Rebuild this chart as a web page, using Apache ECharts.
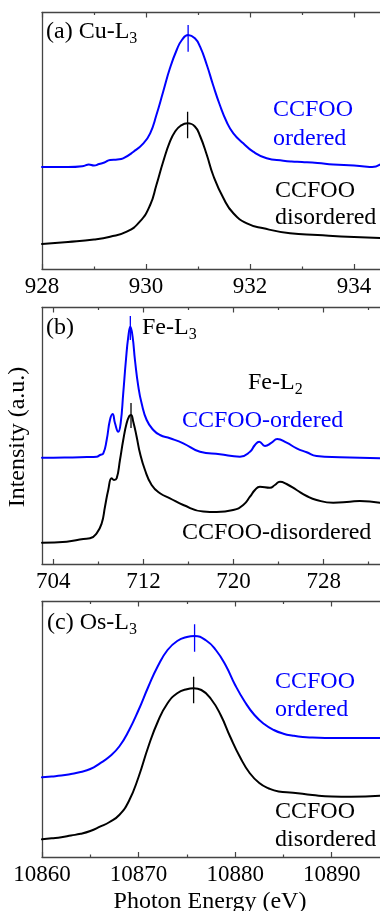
<!DOCTYPE html>
<html><head><meta charset="utf-8">
<script src="https://cdn.jsdelivr.net/npm/echarts@6/dist/echarts.min.js"></script>
<style>html,body{margin:0;padding:0;background:#fff}#c{width:380px;height:911px}</style>
</head><body><div id="c"></div>
<script>
// ---------- Panel (a) Cu-L3 ----------
const cuOrdered = [[928.0,1.02],[928.5,1.02],[928.8,1.03],[928.9,1.045],[929.0,1.035],[929.1,1.05],[929.2,1.065],[929.31,1.09],[929.45,1.095],[929.56,1.107],[929.76,1.173],[929.95,1.257],[930.08,1.357],[930.2,1.54],[930.33,1.773],[930.46,2.007],[930.59,2.19],[930.69,2.29],[930.81,2.34],[930.94,2.307],[931.04,2.223],[931.17,2.04],[931.29,1.84],[931.42,1.64],[931.55,1.473],[931.68,1.357],[931.87,1.257],[932.06,1.173],[932.32,1.107],[932.64,1.083],[932.8,1.075],[933.0,1.07],[933.3,1.06],[933.6,1.045],[934.0,1.035],[934.2,1.025],[934.35,1.02],[934.5,1.045]];
const cuDisordered = [[928.0,0.25],[928.5,0.27],[929.0,0.295],[929.31,0.323],[929.63,0.373],[929.88,0.473],[930.08,0.64],[930.2,0.84],[930.33,1.073],[930.46,1.273],[930.56,1.375],[930.66,1.43],[930.8,1.457],[930.94,1.425],[931.04,1.33],[931.17,1.14],[931.29,0.94],[931.49,0.707],[931.68,0.557],[931.94,0.457],[932.26,0.407],[932.77,0.357],[933.3,0.34],[934.0,0.32],[934.5,0.31]];
const cuPeakOrdered = [[930.81,2.44],[930.81,2.173]];
const cuPeakDisordered = [[930.8,1.573],[930.8,1.307]];
const cuMajorTicks = [928,930,932,934];
const cuMinorTicks = [929,931,933];

// ---------- Panel (b) Fe-L2,3 ----------
const feOrdered = [[703,1.063],[705,1.065],[707,1.07],[707.85,1.073],[708.15,1.09],[708.44,1.107],[708.74,1.24],[709.03,1.44],[709.27,1.5],[709.48,1.407],[709.77,1.323],[709.98,1.407],[710.21,1.707],[710.45,2.04],[710.66,2.273],[710.84,2.373],[711.04,2.273],[711.25,2.04],[711.55,1.773],[711.84,1.607],[712.29,1.44],[712.88,1.34],[713.47,1.29],[714.36,1.257],[715.54,1.207],[717.02,1.123],[718.79,1.097],[720.57,1.073],[721.46,1.123],[721.9,1.19],[722.28,1.223],[722.79,1.18],[723.38,1.213],[723.88,1.25],[724.71,1.213],[725.6,1.157],[726.49,1.117],[727.37,1.08],[729.44,1.067],[733,1.057]];
const feDisordered = [[703,0.213],[705.19,0.223],[706.67,0.25],[707.26,0.257],[707.85,0.307],[708.3,0.407],[708.59,0.573],[708.88,0.74],[709.18,0.857],[709.39,0.84],[709.63,0.857],[709.92,1.04],[710.21,1.24],[710.51,1.407],[710.75,1.48],[710.9,1.49],[711.1,1.423],[711.4,1.273],[711.7,1.107],[712.14,0.94],[712.73,0.79],[713.47,0.707],[714.36,0.657],[715.54,0.59],[717.31,0.525],[718.5,0.52],[719.97,0.54],[720.86,0.59],[721.46,0.673],[721.9,0.74],[722.34,0.773],[723.23,0.763],[723.67,0.79],[724.12,0.823],[724.71,0.8],[725.6,0.74],[726.49,0.68],[727.37,0.64],[728.85,0.613],[730.33,0.623],[731.2,0.63],[733,0.613]];
const fePeakOrdered = [[710.84,2.48],[710.84,2.24]];
const fePeakDisordered = [[710.9,1.61],[710.9,1.36]];
const feMajorTicks = [704,712,720,728];
const feMinorTicks = [708,716,724,732];

// ---------- Panel (c) Os-L3 ----------
const osOrdered = [[10860,0.797],[10861,0.805],[10862,0.814],[10863,0.83],[10864,0.85],[10865,0.88],[10866,0.937],[10867,1.005],[10868,1.105],[10869,1.265],[10870,1.47],[10871,1.7],[10872,1.91],[10873,2.07],[10874,2.16],[10875,2.2],[10875.8,2.21],[10877,2.165],[10878,2.07],[10879,1.92],[10880,1.72],[10881,1.553],[10882,1.42],[10883,1.33],[10884,1.27],[10885,1.233],[10886,1.213],[10887,1.2],[10888,1.195],[10890,1.19],[10893,1.19],[10895,1.19]];
const osDisordered = [[10860,0.177],[10861,0.187],[10862,0.198],[10863,0.215],[10864,0.232],[10865,0.26],[10866,0.303],[10867,0.35],[10868,0.42],[10869,0.56],[10870,0.8],[10871,1.1],[10872,1.355],[10873,1.537],[10874,1.637],[10875,1.678],[10875.7,1.687],[10876.5,1.67],[10877.5,1.58],[10878.5,1.42],[10879.5,1.2],[10880.5,1.0],[10881.5,0.84],[10882.5,0.74],[10883.5,0.685],[10884.5,0.655],[10886,0.643],[10888,0.62],[10890,0.605],[10892,0.603],[10895,0.613]];
const osPeakOrdered = [[10875.8,2.327],[10875.8,2.053]];
const osPeakDisordered = [[10875.7,1.803],[10875.7,1.537]];
const osMajorTicks = [10860,10870,10880,10890];
const osMinorTicks = [10865,10875,10885];

const xRanges = [[928,934.5],[703,733],[10860,10895]];
const yMax = [2.565,2.565,2.555];

const F = 'Liberation Serif';
const BLUE = '#0000ff', BLACK = '#000000', AX = '#444444';

const grids = [
  {left:42, top:12.5, width:338, height:256.5},
  {left:42, top:307.5, width:338, height:256.5},
  {left:42, top:601.5, width:338, height:255.5}
].map(g => Object.assign({containLabel:false, outerBoundsMode:'none'}, g));

const majors = [cuMajorTicks, feMajorTicks, osMajorTicks];
const minors = [cuMinorTicks, feMinorTicks, osMinorTicks];

const xAxis = [];
const yAxis = [];
for (let g = 0; g < 3; g++) {
  const [mn, mx] = xRanges[g];
  const base = {type:'value', gridIndex:g, min:mn, max:mx, splitLine:{show:false}, minorTick:{show:false}};
  xAxis.push(Object.assign({}, base, {position:'bottom',
    axisLine:{show:true, onZero:false, lineStyle:{color:AX, width:1.3}},
    axisTick:{show:true, inside:true, length:5, customValues:majors[g], lineStyle:{color:AX, width:1.2}},
    axisLabel:{show:true, customValues:majors[g], margin:6, color:'#000', fontSize:23, fontFamily:F,
      formatter:function(v){ return String(v); }}}));
  xAxis.push(Object.assign({}, base, {position:'bottom',
    axisLine:{show:false},
    axisTick:{show:true, inside:true, length:2.5, customValues:minors[g], lineStyle:{color:AX, width:1.2}},
    axisLabel:{show:false}}));
  xAxis.push(Object.assign({}, base, {position:'top',
    axisLine:{show:true, onZero:false, lineStyle:{color:AX, width:1.3}},
    axisTick:{show:true, inside:true, length:5, customValues:majors[g], lineStyle:{color:AX, width:1.2}},
    axisLabel:{show:false}}));
  xAxis.push(Object.assign({}, base, {position:'top',
    axisLine:{show:false},
    axisTick:{show:true, inside:true, length:2.5, customValues:minors[g], lineStyle:{color:AX, width:1.2}},
    axisLabel:{show:false}}));
  yAxis.push({type:'value', gridIndex:g, min:0, max:yMax[g], position:'left',
    axisLine:{show:true, onZero:false, lineStyle:{color:AX, width:1.3}},
    axisTick:{show:false}, axisLabel:{show:false}, splitLine:{show:false}});
}

function curve(g, data, color) {
  return {type:'line', xAxisIndex:g*4, yAxisIndex:g, data:data, showSymbol:false, symbol:'none',
    smooth:0.5, lineStyle:{color:color, width:2, join:'round', cap:'round'}, itemStyle:{color:color}, silent:true, z:3};
}
function marker(g, data, color) {
  return {type:'line', xAxisIndex:g*4, yAxisIndex:g, data:data, showSymbol:false, symbol:'none',
    lineStyle:{color:color, width:1.3}, silent:true, z:4};
}

const series = [
  curve(0, cuOrdered, BLUE), curve(0, cuDisordered, BLACK),
  marker(0, cuPeakOrdered, BLUE), marker(0, cuPeakDisordered, BLACK),
  curve(1, feOrdered, BLUE), curve(1, feDisordered, BLACK),
  marker(1, fePeakOrdered, BLUE), marker(1, fePeakDisordered, BLACK),
  curve(2, osOrdered, BLUE), curve(2, osDisordered, BLACK),
  marker(2, osPeakOrdered, BLUE), marker(2, osPeakDisordered, BLACK)
];

function txt(x, y, text, color) {
  return {type:'text', x:x, y:y, silent:true, z:10, style:{text:text, fill:color, fontSize:24, fontFamily:F, align:'left', verticalAlign:'middle'}};
}
function subTxt(x, y, main, sub, color) {
  return {type:'text', x:x, y:y, silent:true, z:10, style:{
    text:'{m|' + main + '}{s|' + sub + '}', align:'left', verticalAlign:'middle',
    rich:{m:{fill:color, fontSize:24, fontFamily:F, lineHeight:30}, s:{fill:color, fontSize:16, fontFamily:F, lineHeight:16, verticalAlign:'bottom'}}}};
}

const graphic = [
  subTxt(46, 32, '(a) Cu-L', '3', BLACK),
  txt(273, 110, 'CCFOO', BLUE), txt(273, 139, 'ordered', BLUE),
  txt(275, 191, 'CCFOO', BLACK), txt(275, 218, 'disordered', BLACK),
  txt(46, 328, '(b)', BLACK),
  subTxt(142, 328, 'Fe-L', '3', BLACK),
  subTxt(248, 383, 'Fe-L', '2', BLACK),
  txt(182, 421, 'CCFOO-ordered', BLUE),
  txt(182, 533, 'CCFOO-disordered', BLACK),
  subTxt(47, 623, '(c) Os-L', '3', BLACK),
  txt(275, 682, 'CCFOO', BLUE), txt(275, 710, 'ordered', BLUE),
  txt(275, 812, 'CCFOO', BLACK), txt(275, 840, 'disordered', BLACK),
  {type:'text', x:18, y:437, rotation:Math.PI/2, silent:true, z:10, style:{text:'Intensity (a.u.)', fill:'#000', fontSize:24, fontFamily:F, align:'center', verticalAlign:'middle'}},
  {type:'text', x:210, y:902, silent:true, z:10, style:{text:'Photon Energy (eV)', fill:'#000', fontSize:24, fontFamily:F, align:'center', verticalAlign:'middle'}}
];

const chart = echarts.init(document.getElementById('c'), null, {renderer:'canvas'});
chart.setOption({animation:false, backgroundColor:'#fff', grid:grids, xAxis:xAxis, yAxis:yAxis, series:series, graphic:graphic, tooltip:{show:false}});
</script></body></html>
